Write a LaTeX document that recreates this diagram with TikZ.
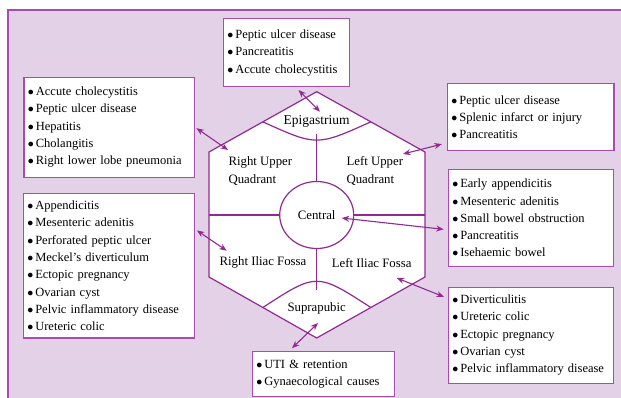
\documentclass[tikz,border=0pt]{standalone}
\usepackage{fontspec}
\setmainfont{Liberation Serif}
\usetikzlibrary{calc,arrows.meta,shapes.geometric}
\definecolor{bgpurple}{RGB}{227,210,231}
\definecolor{framepurple}{RGB}{168,76,176}
\definecolor{linepurple}{RGB}{146,42,146}
\newcommand{\bul}{$\bullet$\hspace{2pt}}
\tikzset{
  listbox/.style={draw=framepurple, line width=1.2pt, fill=white, anchor=north west,
    align=left, inner xsep=4pt, inner ysep=0pt, font=\fontsize{12.5}{17.3}\selectfont},
  region/.style={font=\fontsize{12.8}{18.3}\selectfont},
  biarrow/.style={linepurple, line width=1.1pt,
    arrows={Stealth[length=7.5pt,width=6pt]-Stealth[length=7.5pt,width=6pt]}},
}

\begin{document}
\begin{tikzpicture}[x=1pt,y=-1pt]
\useasboundingbox (0,0) rectangle (621,398);
% background panel
\fill[bgpurple] (8,10) rectangle (621,398);
\draw[framepurple, line width=1.6pt] (8,398) |- (621,10);

% hexagon
\coordinate (top) at (316.7,91.7);
\coordinate (ur) at (425,152);
\coordinate (lr) at (425,277);
\coordinate (bot) at (316.7,338);
\coordinate (ll) at (209,277);
\coordinate (ul) at (209,152);
\filldraw[fill=white, draw=linepurple, line width=1.2pt]
  (top) -- (ur) -- (lr) -- (bot) -- (ll) -- (ul) -- cycle;

% epigastric and suprapubic arcs
\coordinate (ea) at ($(top)!0.5!(ul)$);
\coordinate (eb) at ($(top)!0.5!(ur)$);
\coordinate (emid) at (316.7,134);
\coordinate (sa) at ($(bot)!0.5!(ll)$);
\coordinate (sb) at ($(bot)!0.5!(lr)$);
\coordinate (smid) at (316.7,290);
\draw[linepurple, line width=1.2pt] (ea) .. controls (316.7,146.2) .. (eb);
\draw[linepurple, line width=1.2pt] (sa) .. controls (316.7,272.5) .. (sb);

% central region and dividers
\node[ellipse, draw=linepurple, line width=1.2pt, minimum width=74pt, minimum height=67pt,
  inner sep=0pt, region] (central) at (316.7,215) {Central};
\coordinate (ml) at (209,215);
\coordinate (mr) at (425,215);
\draw[linepurple, line width=1.2pt] (emid) -- (central.north);
\draw[linepurple, line width=1.2pt] (central.south) -- (smid);
\draw[linepurple, line width=1.2pt] (ml) -- (central.west);
\draw[linepurple, line width=1.2pt] (central.east) -- (mr);

% region labels
\node[font=\fontsize{13.5}{16}\selectfont] (epilab) at (316.7,121.5) {Epigastrium};
\node[region, align=left, anchor=west] (ruqlab) at (225,171) {Right Upper\\Quadrant};
\node[region, align=left, anchor=west] (luqlab) at (343,171) {Left Upper\\Quadrant};
\node[region] (riflab) at (263,262.7) {Right Iliac Fossa};
\node[region] (liflab) at (371.7,262.7) {Left Iliac Fossa};
\node[region] (suplab) at (316.7,308) {Suprapubic};

% lists of causes
\node[listbox, text width=118.3pt, minimum height=67.7pt] (ebox) at (222.7,18.3)
  {\bul Peptic ulcer disease\\\bul Pancreatitis\\\bul Accute cholecystitis};
\node[listbox, text width=162.7pt, minimum height=100pt] (ruqbox) at (23.3,76.7)
  {\bul Accute cholecystitis\\\bul Peptic ulcer disease\\\bul Hepatitis\\
   \bul Cholangitis\\\bul Right lower lobe pneumonia};
\node[listbox, text width=158.6pt, minimum height=66.7pt] (luqbox) at (446.7,83.3)
  {\bul Peptic ulcer disease\\\bul Splenic infarct or injury\\\bul Pancreatitis};
\node[listbox, text width=157pt, minimum height=97pt] (cenbox) at (447.7,169)
  {\bul Early appendicitis\\\bul Mesenteric adenitis\\\bul Small bowel obstruction\\
   \bul Pancreatitis\\\bul Isehaemic bowel};
\node[listbox, text width=163.3pt, minimum height=144pt] (rifbox) at (22.7,193.3)
  {\bul Appendicitis\\\bul Mesenteric adenitis\\\bul Perforated peptic ulcer\\
   \bul Meckel's diverticulum\\\bul Ectopic pregnancy\\\bul Ovarian cyst\\
   \bul Pelvic inflammatory disease\\\bul Ureteric colic};
\node[listbox, text width=157pt, minimum height=96pt] (lifbox) at (447.7,286.7)
  {\bul Diverticulitis\\\bul Ureteric colic\\\bul Ectopic pregnancy\\
   \bul Ovarian cyst\\\bul Pelvic inflammatory disease};
\node[listbox, text width=134.3pt, minimum height=45pt] (supbox) at (251.7,351)
  {\bul UTI \& retention\\\bul Gynaecological causes};

% arrows
\coordinate (epi-in) at (320,111.7);
\coordinate (ruq-in) at (228,150);
\coordinate (luq-in) at (403,154);
\coordinate (cen-in) at (341.7,218);
\coordinate (rif-in) at (226.7,250.7);
\coordinate (lif-in) at (396.7,278);
\coordinate (sup-in) at (318,323);
\draw[biarrow, shorten <=4pt] (ebox.285) -- (epi-in);
\draw[biarrow, shorten <=1.5pt] (ruqbox.east) -- (ruq-in);
\draw[biarrow, shorten >=5pt] (luq-in) -- (luqbox.197);
\draw[biarrow, shorten >=4pt] (cen-in) -- (cenbox.188);
\draw[biarrow, shorten <=2pt] (rifbox.23) -- (rif-in);
\draw[biarrow, shorten >=4pt] (lif-in) -- (lifbox.156);
\draw[biarrow, shorten <=4pt] (supbox.146) -- (sup-in);
\end{tikzpicture}
\end{document}
